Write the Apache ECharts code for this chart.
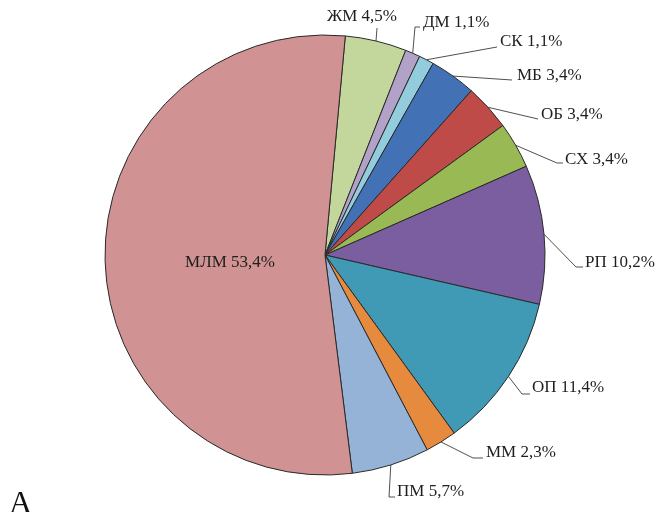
<!DOCTYPE html>
<html>
<head>
<meta charset="utf-8">
<script src="https://cdn.jsdelivr.net/npm/echarts@6/dist/echarts.min.js"></script>
<style>
  html, body { margin: 0; padding: 0; background: #fff; }
  #chart { width: 660px; height: 512px; }
</style>
</head>
<body>
<div id="chart"></div>
<script>
// slices, clockwise from just right of 12 o'clock
const categories = ['ЖМ', 'ДМ', 'СК', 'МБ', 'ОБ', 'СХ', 'РП', 'ОП', 'ММ', 'ПМ', 'МЛМ'];
const shares = [4.5, 1.1, 1.1, 3.4, 3.4, 3.4, 10.2, 11.4, 2.3, 5.7, 53.4];

const palette = ['#C3D69B', '#B3A2C7', '#93CDDD', '#4272B5', '#BE4B48', '#98B954',
  '#7B5EA0', '#4099B5', '#E68A3E', '#95B3D7', '#D09292'];

// where each label sits, and the bends of its leader line
const labelSpots = [
  { x: 362, y: 17, align: 'center', line: [[377, 28]] },
  { x: 423, y: 23, align: 'left', line: [[415, 27], [420, 27]] },
  { x: 500, y: 42, align: 'left', line: [[497, 47]] },
  { x: 517, y: 76, align: 'left', line: [[512, 80]] },
  { x: 541, y: 115, align: 'left', line: [[538, 119]] },
  { x: 565, y: 160, align: 'left', line: [[557, 163], [563, 163]] },
  { x: 585, y: 263, align: 'left', line: [[576, 267], [583, 267]] },
  { x: 532, y: 388, align: 'left', line: [[522, 394], [530, 394]] },
  { x: 486, y: 453, align: 'left', line: [[473, 458], [483, 458]] },
  { x: 397, y: 492, align: 'left', line: [[389, 497], [395, 497]] },
  { x: 230, y: 263, align: 'center' }
];

const chart = echarts.init(document.getElementById('chart'), null, { renderer: 'canvas' });

const pieData = categories.map((name, i) => {
  const item = { name: name, value: shares[i], itemStyle: { color: palette[i] } };
  if (name === 'МЛМ') {
    item.label = { position: 'inside' };
    item.labelLine = { show: false };
  }
  return item;
});

const option = {
  animation: false,
  backgroundColor: '#fff',
  title: {
    text: 'А',
    left: 4,
    top: 484,
    textStyle: { fontFamily: 'Liberation Serif', fontSize: 32, fontWeight: 'normal', color: '#111' }
  },
  series: [{
    type: 'pie',
    center: [325, 255],
    radius: 220,
    startAngle: 84.7,
    clockwise: true,
    avoidLabelOverlap: false,
    data: pieData,
    itemStyle: { borderColor: '#2a2a2a', borderWidth: 1 },
    label: {
      show: true,
      position: 'outside',
      fontFamily: 'Liberation Serif',
      fontSize: 17,
      color: '#1e1e1e',
      formatter: p => p.name + ' ' + String(p.value).replace('.', ',') + '%'
    },
    labelLine: {
      show: true,
      length: 10,
      length2: 10,
      lineStyle: { color: '#505050', width: 1 }
    },
    labelLayout: function (params) {
      const spot = labelSpots[params.dataIndex];
      const out = { x: spot.x, y: spot.y, align: spot.align, verticalAlign: 'middle' };
      if (spot.line && params.labelLinePoints) {
        out.labelLinePoints = [params.labelLinePoints[0]].concat(spot.line);
      }
      return out;
    }
  }]
};

chart.setOption(option);
</script>
</body>
</html>
